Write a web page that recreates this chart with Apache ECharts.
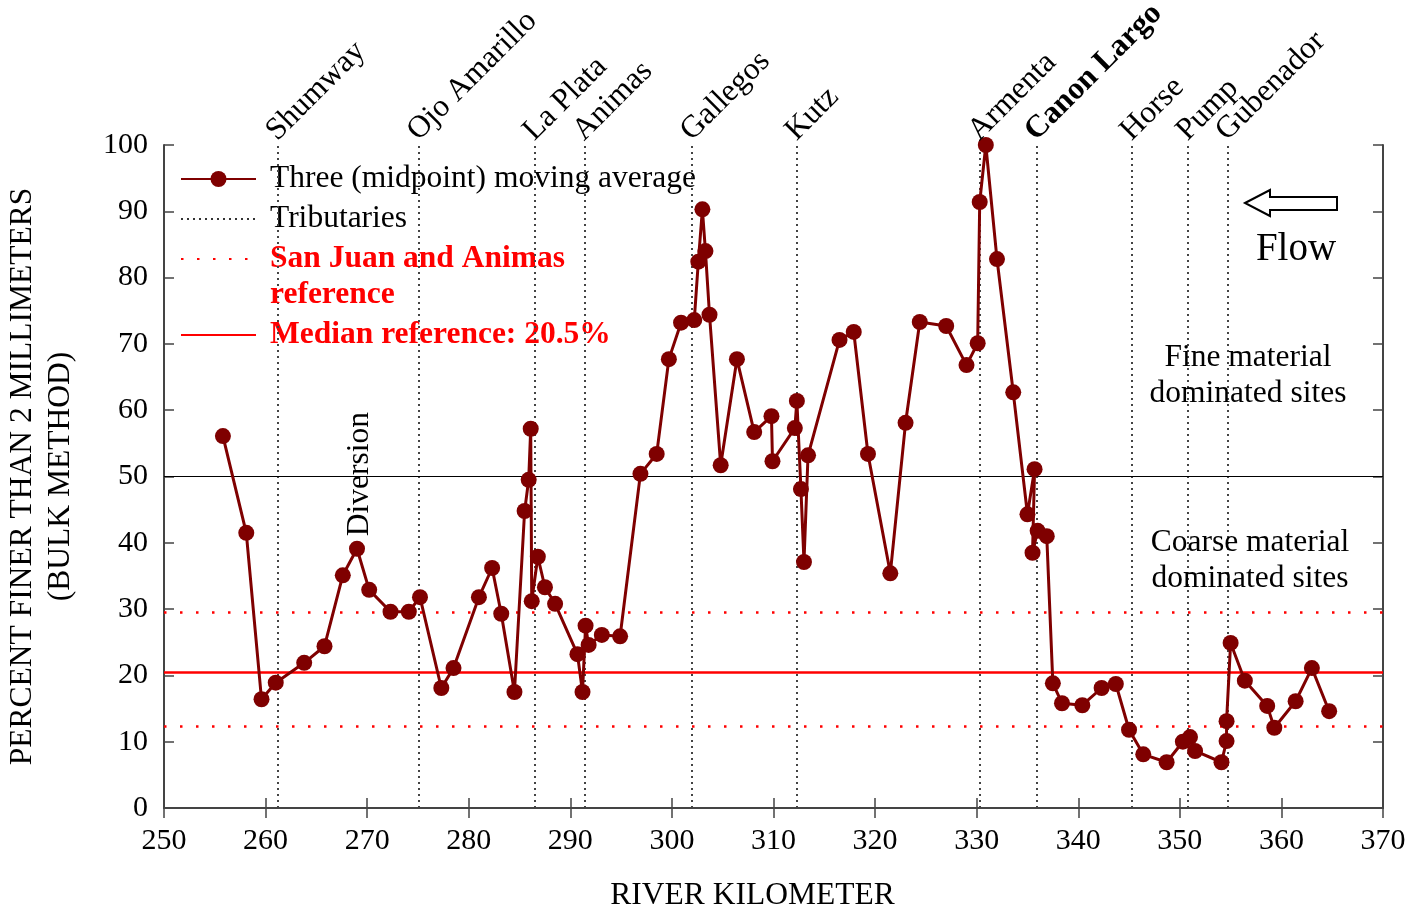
<!DOCTYPE html>
<html><head><meta charset="utf-8">
<script src="https://cdn.jsdelivr.net/npm/echarts@6/dist/echarts.min.js"></script>
<style>html,body{margin:0;padding:0;background:#fff}#c{width:1412px;height:910px}</style>
</head><body><div id="c"></div>
<script>
// ---- data ----
const riverKm = [255.8,258.1,259.6,261.0,263.8,265.8,267.6,269.0,270.2,272.3,
 274.1,275.2,277.3,278.5,281.0,282.3,283.2,284.5,285.5,285.9,
 286.1,286.2,286.8,287.5,288.5,290.7,291.2,291.5,291.8,293.1,
 294.9,296.9,298.5,299.7,300.9,302.2,302.6,303.0,303.3,303.7,
 304.8,306.4,308.1,309.8,309.9,312.1,312.3,312.7,313.0,313.4,
 316.5,317.9,319.3,321.5,323.0,324.4,327.0,329.0,330.1,330.3,
 330.9,332.0,333.6,335.0,335.7,335.5,336.0,336.9,337.5,338.4,
 340.4,342.3,343.7,345.0,346.4,348.7,350.3,351.0,351.5,354.1,
 354.6,354.6,355.0,356.4,358.6,359.3,361.4,363.0,364.7];
const percentFiner = [56.1,41.5,16.4,18.9,21.9,24.4,35.1,39.1,32.9,29.6,
 29.6,31.8,18.1,21.1,31.8,36.2,29.3,17.5,44.8,49.5,
 57.2,31.2,37.9,33.3,30.8,23.2,17.5,27.5,24.6,26.1,
 25.9,50.4,53.4,67.7,73.2,73.6,82.4,90.3,84.0,74.4,
 51.7,67.7,56.7,59.1,52.3,57.3,61.4,48.1,37.1,53.2,
 70.6,71.8,53.4,35.4,58.1,73.3,72.7,66.8,70.1,91.4,
 100,82.8,62.7,44.3,51.1,38.5,41.8,41.0,18.8,15.8,
 15.5,18.1,18.7,11.8,8.1,6.9,10.0,10.7,8.6,6.9,
 10.1,13.1,24.9,19.2,15.4,12.1,16.1,21.1,14.6];
const tribNames = ['Shumway','Ojo Amarillo','La Plata','Animas','Gallegos','Kutz','Armenta','Canon Largo','Horse','Pump','Gubenador'];
const tribKm = [261.2,275.1,286.5,291.4,302.0,312.3,330.3,335.9,345.3,350.8,354.7];
const tribBold = [false,false,false,false,false,false,false,true,false,false,false];
const refBand = [29.5, 12.4];
const medianRef = 20.5;
const fineCoarseDivide = 50;
const seriesNames = ['Three (midpoint) moving average','Tributaries','San Juan and Animas','Median reference: 20.5%'];

const FONT = 'Liberation Serif';
const chart = echarts.init(document.getElementById('c'));
const pairs = riverKm.map((k,i)=>[k, percentFiner[i]]);

const axisCommon = {
  type:'value', min:250, max:370, interval:10,
  axisLine:{show:true, lineStyle:{color:'#444', width:2}},
  axisTick:{show:true, inside:true, length:10, lineStyle:{color:'#444', width:1.5}},
  splitLine:{show:false}
};
const yCommon = {
  type:'value', min:0, max:100, interval:10,
  axisLine:{show:true, lineStyle:{color:'#444', width:2}},
  axisTick:{show:true, inside:true, length:10, lineStyle:{color:'#444', width:1.5}},
  splitLine:{show:false}
};
const noSymbol = {opacity:0};

const option = {
  backgroundColor:'#fff',
  animation:false,
  textStyle:{fontFamily:FONT},
  grid:{left:164, right:29, top:145, bottom:102, containLabel:false, outerBoundsMode:'none'},
  legend:[{
    orient:'vertical', left:180, top:159, padding:0, itemGap:0,
    itemWidth:75, itemHeight:20,
    textStyle:{fontFamily:FONT, fontSize:31.5, color:'#000', lineHeight:40, padding:[0,0,0,9]},
    data:[
      {name:seriesNames[0]},
      {name:seriesNames[1], itemStyle:noSymbol},
      {name:seriesNames[2], itemStyle:noSymbol, textStyle:{color:'#ff0000', fontWeight:'bold'}}
    ]
  },{
    orient:'vertical', left:180, top:315, padding:0, itemGap:0,
    itemWidth:75, itemHeight:20,
    textStyle:{fontFamily:FONT, fontSize:31.5, color:'#ff0000', fontWeight:'bold', lineHeight:40, padding:[0,0,0,9]},
    data:[{name:seriesNames[3], itemStyle:noSymbol}]
  }],
  xAxis:[
    Object.assign({}, axisCommon, {position:'bottom',
      axisLabel:{show:true, margin:18, fontFamily:FONT, fontSize:30, color:'#000'},
      name:'RIVER KILOMETER', nameLocation:'middle', nameGap:72,
      nameTextStyle:{fontFamily:FONT, fontSize:31.5, color:'#000', padding:[0,42,0,0]}}),
    Object.assign({}, axisCommon, {position:'top', axisLabel:{show:false}})
  ],
  yAxis:[
    Object.assign({}, yCommon, {position:'left',
      axisLabel:{show:true, margin:16, fontFamily:FONT, fontSize:30, color:'#000'},
      name:'PERCENT FINER THAN 2 MILLIMETERS\n(BULK METHOD)', nameLocation:'middle', nameGap:84, nameRotate:90,
      nameTextStyle:{fontFamily:FONT, fontSize:31.5, color:'#000', lineHeight:38, align:'center'}}),
    Object.assign({}, yCommon, {position:'right', axisLabel:{show:false}})
  ],
  series:[
    {
      name:seriesNames[1], type:'line', data:[], symbol:'none',
      lineStyle:{color:'#333', width:2, type:[2,4]},
      itemStyle:{color:'#333'},
      markLine:{silent:true, symbol:['none','none'], label:{show:false},
        lineStyle:{color:'#444', width:2, type:[2,4]},
        data: tribKm.map(k=>({xAxis:k}))}
    },
    {
      name:seriesNames[2], type:'line', data:[], symbol:'none',
      lineStyle:{color:'#ff0000', width:2.5, type:[2.5,13.5]},
      itemStyle:{color:'#ff0000'},
      markLine:{silent:true, symbol:['none','none'], label:{show:false},
        lineStyle:{color:'#ff0000', width:2.5, type:[2.5,13.5]},
        data: refBand.map(v=>({yAxis:v}))}
    },
    {
      name:seriesNames[3], type:'line', data:[], symbol:'none',
      lineStyle:{color:'#ff0000', width:2.5, type:'solid'},
      itemStyle:{color:'#ff0000'},
      markLine:{silent:true, symbol:['none','none'], label:{show:false},
        lineStyle:{color:'#ff0000', width:2.5, type:'solid'},
        data:[{yAxis:medianRef}]}
    },
    {
      name:'divide', type:'line', data:[], symbol:'none',
      markLine:{silent:true, symbol:['none','none'], label:{show:false},
        lineStyle:{color:'#000', width:1.2, type:'solid'},
        data:[{yAxis:fineCoarseDivide}]}
    },
    {
      name:seriesNames[0], type:'line', data:pairs, z:5,
      symbol:'circle', symbolSize:16, showAllSymbol:true,
      lineStyle:{color:'#7f0000', width:3},
      itemStyle:{color:'#7f0000'}
    }
  ]
};
chart.setOption(option);

// annotations positioned through the axes
const g = [];
tribKm.forEach((k,i)=>{
  const px = chart.convertToPixel({xAxisIndex:0}, k);
  g.push({type:'text', x:px+5, y:147, rotation:Math.PI/4, z:10,
    style:{text:tribNames[i], fontFamily:FONT, fontSize:31.5, fontWeight:tribBold[i]?'bold':'normal',
      fill:'#000', align:'left', verticalAlign:'bottom'}});
});
const dv = chart.convertToPixel({xAxisIndex:0, yAxisIndex:0}, [269.3, 41]);
g.push({type:'text', x:dv[0], y:dv[1], rotation:Math.PI/2, z:10,
  style:{text:'Diversion', fontFamily:FONT, fontSize:31.5, fill:'#000', align:'left', verticalAlign:'middle'}});
g.push({type:'text', x:270, y:295, z:10,
  style:{text:'reference', fontFamily:FONT, fontSize:31.5, fontWeight:'bold', fill:'#ff0000', align:'left', verticalAlign:'middle'}});
g.push({type:'text', x:1248, y:376, z:10,
  style:{text:'Fine material\ndominated sites', fontFamily:FONT, fontSize:31.5, lineHeight:36, fill:'#000', align:'center', verticalAlign:'middle'}});
g.push({type:'text', x:1250, y:561, z:10,
  style:{text:'Coarse material\ndominated sites', fontFamily:FONT, fontSize:31.5, lineHeight:36, fill:'#000', align:'center', verticalAlign:'middle'}});
g.push({type:'text', x:1296, y:250, z:10,
  style:{text:'Flow', fontFamily:FONT, fontSize:39, fill:'#000', align:'center', verticalAlign:'middle'}});
g.push({type:'polygon', z:10,
  shape:{points:[[1245,203],[1270,190],[1270,197],[1337,197],[1337,210],[1270,210],[1270,216]]},
  style:{fill:'#fff', stroke:'#000', lineWidth:2}});
chart.setOption({graphic:g});
</script>
</body></html>
